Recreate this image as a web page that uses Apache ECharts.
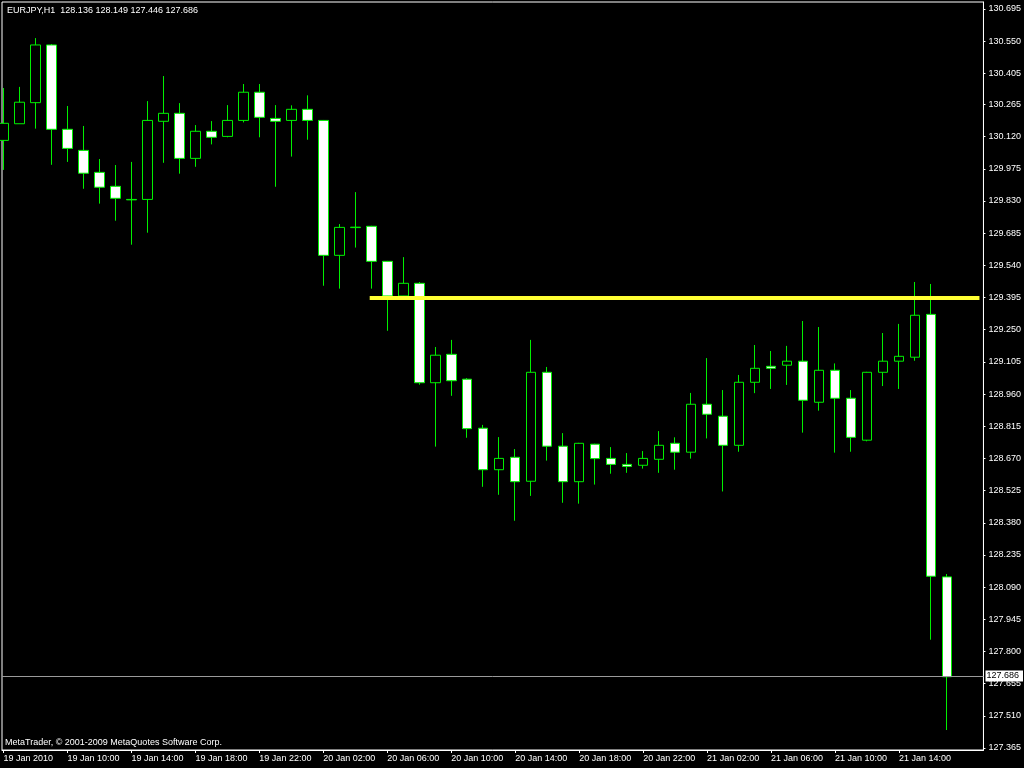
<!DOCTYPE html>
<html>
<head>
<meta charset="utf-8">
<title>EURJPY,H1</title>
<script src="https://cdn.jsdelivr.net/npm/echarts@6/dist/echarts.min.js"></script>
<style>
  html, body { margin: 0; padding: 0; background: #000; }
  #eurjpyChart { width: 1024px; height: 768px; }
</style>
</head>
<body>
<div id="eurjpyChart"></div>
<script>
// EURJPY H1 bars, 19 Jan 06:00 -> 21 Jan 17:00 (index = hour offset)
const opens = [
  130.103, 130.178, 130.273, 130.533, 130.153, 130.058, 129.959, 129.896, 129.837, 129.837,
  130.189, 130.225, 130.022, 130.144, 130.121, 130.193, 130.320, 130.202, 130.193, 130.243,
  130.193, 129.585, 129.710, 129.716, 129.558, 129.402, 129.459, 129.011, 129.139, 129.027,
  128.806, 128.619, 128.675, 128.567, 129.058, 128.725, 128.565, 128.734, 128.670, 128.643,
  128.639, 128.666, 128.738, 128.698, 128.914, 128.860, 128.729, 129.013, 129.085, 129.090,
  129.108, 128.923, 129.067, 128.941, 128.752, 129.058, 129.108, 129.126, 129.319, 128.136
];
const closes = [
  130.180, 130.275, 130.533, 130.153, 130.067, 129.955, 129.892, 129.842, 129.835, 130.193,
  130.225, 130.022, 130.144, 130.117, 130.193, 130.320, 130.207, 130.189, 130.243, 130.193,
  129.585, 129.711, 129.712, 129.558, 129.402, 129.459, 129.011, 129.135, 129.020, 128.804,
  128.619, 128.670, 128.565, 129.058, 128.725, 128.565, 128.738, 128.669, 128.643, 128.634,
  128.670, 128.729, 128.698, 128.914, 128.869, 128.729, 129.013, 129.076, 129.076, 129.108,
  128.932, 129.067, 128.941, 128.765, 129.058, 129.108, 129.130, 129.315, 128.139, 127.686
];
const lows = [
  129.970, 130.178, 130.156, 129.993, 130.006, 129.885, 129.818, 129.741, 129.633, 129.687,
  130.002, 129.953, 129.984, 130.085, 130.117, 130.184, 130.117, 129.894, 130.030, 130.106,
  129.448, 129.435, 129.620, 129.435, 129.245, 129.395, 129.002, 128.723, 128.952, 128.763,
  128.542, 128.506, 128.389, 128.501, 128.660, 128.470, 128.466, 128.552, 128.601, 128.605,
  128.624, 128.605, 128.619, 128.669, 128.760, 128.521, 128.700, 128.964, 128.983, 129.001,
  128.786, 128.885, 128.696, 128.700, 128.747, 128.996, 128.983, 129.110, 127.853, 127.446
];
const highs = [
  130.339, 130.344, 130.564, 130.537, 130.258, 130.168, 130.019, 129.992, 130.006, 130.280,
  130.393, 130.271, 130.172, 130.190, 130.262, 130.357, 130.357, 130.262, 130.261, 130.306,
  130.195, 129.726, 129.870, 129.718, 129.560, 129.577, 129.465, 129.172, 129.204, 129.032,
  128.821, 128.766, 128.712, 129.204, 129.082, 128.784, 128.740, 128.736, 128.721, 128.694,
  128.703, 128.793, 128.765, 128.965, 129.122, 128.978, 129.046, 129.181, 129.154, 129.177,
  129.289, 129.262, 129.098, 128.978, 129.060, 129.235, 129.276, 129.465, 129.456, 128.149
];

// time axis labels (every 4th bar)
const xTickBars = [0, 4, 8, 12, 16, 20, 24, 28, 32, 36, 40, 44, 48, 52, 56];
const xTickLabels = [
  '19 Jan 2010', '19 Jan 10:00', '19 Jan 14:00', '19 Jan 18:00', '19 Jan 22:00',
  '20 Jan 02:00', '20 Jan 06:00', '20 Jan 10:00', '20 Jan 14:00', '20 Jan 18:00',
  '20 Jan 22:00', '21 Jan 02:00', '21 Jan 06:00', '21 Jan 10:00', '21 Jan 14:00'
];

// price scale labels
const yTickLabels = [
  '130.695', '130.550', '130.405', '130.265', '130.120', '129.975', '129.830', '129.685',
  '129.540', '129.395', '129.250', '129.105', '128.960', '128.815', '128.670', '128.525',
  '128.380', '128.235', '128.090', '127.945', '127.800', '127.655', '127.510', '127.365'
];

// horizontal level drawn by hand (yellow)
const levelPrice = 129.395;
const levelFromBar = 22.9;
const levelToBar = 61.03;

const fontFamily = '"Liberation Sans", Arial, sans-serif';
const last = opens.length - 1;
const lastPrice = closes[last];

let candles = [];
for (let i = 0; i < opens.length; i++) {
  candles.push([i, opens[i], closes[i], lows[i], highs[i]]);
}

let myChart = echarts.init(document.getElementById('eurjpyChart'));
myChart.setOption({
  animation: false,
  backgroundColor: '#000000',
  textStyle: { fontFamily: fontFamily },
  title: [
    {
      text: 'EURJPY,H1  ' + [opens[last], highs[last], lows[last], closes[last]].map(v => v.toFixed(3)).join(' '),
      left: 7,
      top: 6,
      padding: 0,
      textStyle: { color: '#ffffff', fontSize: 9, fontWeight: 'normal', fontFamily: fontFamily }
    },
    {
      text: 'MetaTrader, © 2001-2009 MetaQuotes Software Corp.',
      left: 5,
      top: 738,
      padding: 0,
      textStyle: { color: '#ffffff', fontSize: 9, fontWeight: 'normal', fontFamily: fontFamily }
    }
  ],
  grid: {
    left: 2,
    top: 2,
    right: 40,
    bottom: 18,
    show: true,
    borderColor: '#ffffff',
    borderWidth: 1,
    backgroundColor: '#000000'
  },
  xAxis: {
    type: 'value',
    min: -0.09375,
    max: 61.28125,
    axisLine: { show: true, onZero: false, lineStyle: { color: '#ffffff', width: 1 } },
    axisTick: {
      show: true,
      length: 3,
      customValues: xTickBars,
      lineStyle: { color: '#ffffff' }
    },
    axisLabel: {
      customValues: xTickBars,
      color: '#ffffff',
      fontSize: 9,
      margin: 4,
      align: 'left',
      formatter: function (val) {
        let idx = xTickBars.indexOf(Math.round(val));
        return idx >= 0 ? xTickLabels[idx] : '';
      }
    },
    splitLine: { show: false }
  },
  yAxis: {
    type: 'value',
    position: 'right',
    min: 127.356,
    max: 130.7266,
    axisLine: { show: true, onZero: false, lineStyle: { color: '#ffffff', width: 1 } },
    axisTick: {
      show: true,
      length: 2,
      customValues: yTickLabels.map(Number),
      lineStyle: { color: '#ffffff' }
    },
    axisLabel: {
      customValues: yTickLabels.map(Number),
      color: '#ffffff',
      fontSize: 9,
      margin: 5,
      formatter: function (val) {
        return val.toFixed(3);
      }
    },
    splitLine: { show: false }
  },
  series: [
    {
      type: 'candlestick',
      name: 'EURJPY',
      data: candles,
      dimensions: ['bar', 'open', 'close', 'lowest', 'highest'],
      encode: { x: 'bar', y: ['open', 'close', 'lowest', 'highest'] },
      barWidth: 10,
      itemStyle: {
        color: '#000000',      // bullish -> hollow
        color0: '#ffffff',     // bearish -> white
        borderColor: '#00f000',
        borderColor0: '#00f000',
        borderColorDoji: '#00f000',
        borderWidth: 1
      },
      emphasis: { disabled: true },
      markLine: {
        silent: true,
        symbol: ['none', 'none'],
        animation: false,
        data: [
          [
            { coord: [levelFromBar, levelPrice], lineStyle: { color: '#ffff33', width: 4, type: 'solid' }, label: { show: false } },
            { coord: [levelToBar, levelPrice] }
          ],
          {
            yAxis: lastPrice,
            lineStyle: { color: '#9a9a9a', width: 1, type: 'solid' },
            label: {
              show: true,
              position: 'end',
              distance: 2,
              formatter: lastPrice.toFixed(3),
              color: '#000000',
              backgroundColor: '#ffffff',
              fontSize: 9,
              fontFamily: fontFamily,
              padding: [1, 4, 1, 1]
            }
          }
        ]
      }
    }
  ]
});
</script>
</body>
</html>
